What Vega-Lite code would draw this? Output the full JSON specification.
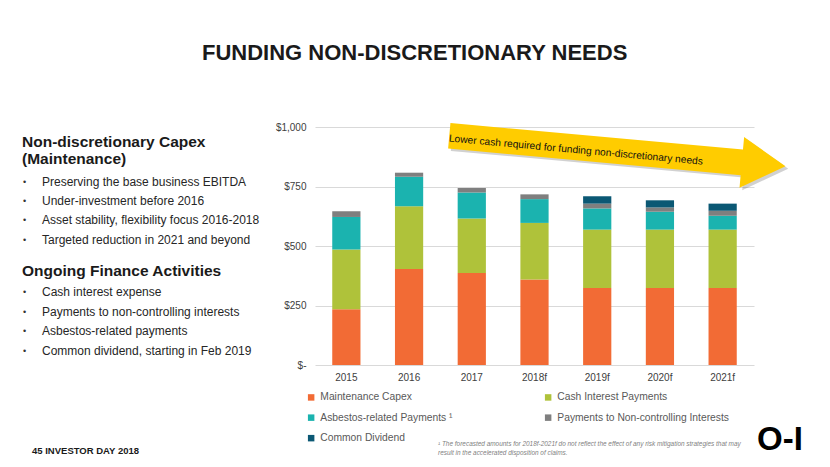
{
  "$schema": "https://vega.github.io/schema/vega-lite/v6.json",
  "background": "white",
  "padding": {"left": 22, "top": 42, "right": 0, "bottom": 0},
  "title": {"text": "FUNDING NON-DISCRETIONARY NEEDS", "fontSize": 22, "fontWeight": "bold", "font": "Liberation Sans", "color": "#1a1a1a", "anchor": "start", "offset": 57, "frame": "group", "dx": 180},
  "config": {"view": {"stroke": null}, "font": "Liberation Sans"},
  "bounds": "flush",
  "spacing": 43,
  "resolve": {"scale": {"color": "independent"}, "legend": {"color": "independent"}},
  "hconcat": [
    {
      "width": 250,
      "height": 238,
      "data": {"values": [
        {"line": 0.77, "kind": "heading", "text": "Non-discretionary Capex"},
        {"line": 1.63, "kind": "heading", "text": "(Maintenance)"},
        {"line": 2.81, "kind": "bullet", "text": "Preserving the base business EBITDA"},
        {"line": 3.78, "kind": "bullet", "text": "Under-investment before 2016"},
        {"line": 4.77, "kind": "bullet", "text": "Asset stability, flexibility focus 2016-2018"},
        {"line": 5.77, "kind": "bullet", "text": "Targeted reduction in 2021 and beyond"},
        {"line": 7.35, "kind": "heading", "text": "Ongoing Finance Activities"},
        {"line": 8.42, "kind": "bullet", "text": "Cash interest expense"},
        {"line": 9.44, "kind": "bullet", "text": "Payments to non-controlling interests"},
        {"line": 10.41, "kind": "bullet", "text": "Asbestos-related payments"},
        {"line": 11.43, "kind": "bullet", "text": "Common dividend, starting in Feb 2019"},
        {"kind": "page", "text": "45 INVESTOR DAY 2018"},
        {"kind": "footnote", "text": "¹ The forecasted amounts for 2018f-2021f do not reflect the effect of any risk mitigation strategies that may\nresult in the accelerated disposition of claims."},
        {"kind": "logo", "text": "O-I"}
      ]},
      "layer": [
        {
          "transform": [{"filter": "datum.kind === 'heading'"}],
          "mark": {"type": "text", "align": "left", "baseline": "middle", "fontSize": 15.5, "fontWeight": "bold", "color": "#1a1a1a"},
          "encoding": {
            "x": {"datum": 0, "type": "quantitative", "scale": {"domain": [0, 250], "nice": false, "zero": false}, "axis": null},
            "y": {"field": "line", "type": "quantitative", "scale": {"domain": [0, 12.15], "reverse": true, "nice": false, "zero": false}, "axis": null},
            "text": {"field": "text"}
          }
        },
        {
          "transform": [{"filter": "datum.kind === 'bullet'"}],
          "mark": {"type": "text", "align": "left", "baseline": "middle", "fontSize": 9, "color": "#333333"},
          "encoding": {
            "x": {"datum": 1, "type": "quantitative", "scale": {"domain": [0, 250], "nice": false, "zero": false}, "axis": null},
            "y": {"field": "line", "type": "quantitative", "scale": {"domain": [0, 12.15], "reverse": true, "nice": false, "zero": false}, "axis": null},
            "text": {"value": "•"}
          }
        },
        {
          "transform": [{"filter": "datum.kind === 'bullet'"}],
          "mark": {"type": "text", "align": "left", "baseline": "middle", "fontSize": 12, "color": "#262626"},
          "encoding": {
            "x": {"datum": 20, "type": "quantitative", "scale": {"domain": [0, 250], "nice": false, "zero": false}, "axis": null},
            "y": {"field": "line", "type": "quantitative", "scale": {"domain": [0, 12.15], "reverse": true, "nice": false, "zero": false}, "axis": null},
            "text": {"field": "text"},
            "fontStyle": {"condition": {"test": "datum.line > 11", "value": "italic"}, "value": "normal"}
          }
        },
        {
          "transform": [{"filter": "datum.kind === 'page'"}],
          "mark": {"type": "text", "align": "left", "baseline": "middle", "fontSize": 9.5, "fontWeight": "bold", "color": "#1a1a1a"},
          "encoding": {
            "x": {"datum": 10, "type": "quantitative", "scale": {"domain": [0, 250], "nice": false, "zero": false}, "axis": null},
            "y": {"datum": 16.55, "type": "quantitative", "scale": {"domain": [0, 12.15], "reverse": true, "nice": false, "zero": false}, "axis": null},
            "text": {"field": "text"}
          }
        },
        {
          "transform": [{"filter": "datum.kind === 'footnote'"}],
          "mark": {"type": "text", "align": "left", "baseline": "top", "fontSize": 6.45, "fontStyle": "italic", "color": "#7F7F7F", "lineBreak": "\n", "lineHeight": 9},
          "encoding": {
            "x": {"datum": 416, "type": "quantitative", "scale": {"domain": [0, 250], "nice": false, "zero": false}, "axis": null},
            "y": {"datum": 16.05, "type": "quantitative", "scale": {"domain": [0, 12.15], "reverse": true, "nice": false, "zero": false}, "axis": null},
            "text": {"field": "text"}
          }
        },
        {
          "transform": [{"filter": "datum.kind === 'logo'"}],
          "mark": {"type": "text", "align": "left", "baseline": "middle", "fontSize": 33, "fontWeight": "bold", "color": "#000000"},
          "encoding": {
            "x": {"datum": 735, "type": "quantitative", "scale": {"domain": [0, 250], "nice": false, "zero": false}, "axis": null},
            "y": {"datum": 15.98, "type": "quantitative", "scale": {"domain": [0, 12.15], "reverse": true, "nice": false, "zero": false}, "axis": null},
            "text": {"field": "text"}
          }
        }
      ]
    },
    {
      "width": 439,
      "height": 238,
      "layer": [
        {
          "data": {"values": [
            {"year": "2015", "category": "Maintenance Capex", "value": 234},
            {"year": "2015", "category": "Cash Interest Payments", "value": 251},
            {"year": "2015", "category": "Asbestos-related Payments", "value": 137},
            {"year": "2015", "category": "Payments to Non-controlling Interests", "value": 24},
            {"year": "2016", "category": "Maintenance Capex", "value": 403},
            {"year": "2016", "category": "Cash Interest Payments", "value": 264},
            {"year": "2016", "category": "Asbestos-related Payments", "value": 124},
            {"year": "2016", "category": "Payments to Non-controlling Interests", "value": 17},
            {"year": "2017", "category": "Maintenance Capex", "value": 387},
            {"year": "2017", "category": "Cash Interest Payments", "value": 229},
            {"year": "2017", "category": "Asbestos-related Payments", "value": 109},
            {"year": "2017", "category": "Payments to Non-controlling Interests", "value": 19},
            {"year": "2018f", "category": "Maintenance Capex", "value": 359},
            {"year": "2018f", "category": "Cash Interest Payments", "value": 238},
            {"year": "2018f", "category": "Asbestos-related Payments", "value": 100},
            {"year": "2018f", "category": "Payments to Non-controlling Interests", "value": 20},
            {"year": "2019f", "category": "Maintenance Capex", "value": 324},
            {"year": "2019f", "category": "Cash Interest Payments", "value": 245},
            {"year": "2019f", "category": "Asbestos-related Payments", "value": 89},
            {"year": "2019f", "category": "Payments to Non-controlling Interests", "value": 20},
            {"year": "2019f", "category": "Common Dividend", "value": 31},
            {"year": "2020f", "category": "Maintenance Capex", "value": 324},
            {"year": "2020f", "category": "Cash Interest Payments", "value": 245},
            {"year": "2020f", "category": "Asbestos-related Payments", "value": 75},
            {"year": "2020f", "category": "Payments to Non-controlling Interests", "value": 18},
            {"year": "2020f", "category": "Common Dividend", "value": 30},
            {"year": "2021f", "category": "Maintenance Capex", "value": 324},
            {"year": "2021f", "category": "Cash Interest Payments", "value": 245},
            {"year": "2021f", "category": "Asbestos-related Payments", "value": 58},
            {"year": "2021f", "category": "Payments to Non-controlling Interests", "value": 21},
            {"year": "2021f", "category": "Common Dividend", "value": 30}
          ]},
          "transform": [
            {"lookup": "category", "from": {"data": {"values": [
              {"category": "Maintenance Capex", "rank": 1},
              {"category": "Cash Interest Payments", "rank": 2},
              {"category": "Asbestos-related Payments", "rank": 3},
              {"category": "Payments to Non-controlling Interests", "rank": 4},
              {"category": "Common Dividend", "rank": 5}
            ]}, "key": "category", "fields": ["rank"]}}
          ],
          "mark": {"type": "bar"},
          "encoding": {
            "x": {"field": "year", "type": "nominal", "sort": null,
              "scale": {"paddingInner": 0.55, "paddingOuter": 0.275},
              "axis": {"title": null, "labelAngle": 0, "ticks": false, "domain": false, "labelFontSize": 10, "labelColor": "#404040", "labelPadding": 7}},
            "y": {"field": "value", "type": "quantitative", "stack": "zero",
              "scale": {"domain": [0, 1000], "nice": false},
              "axis": {"title": null, "values": [0, 250, 500, 750, 1000], "labelExpr": "datum.value === 0 ? '$-' : '$' + format(datum.value, ',')", "ticks": false, "domain": false, "gridColor": "#D9D9D9", "labelFontSize": 10, "labelColor": "#404040", "labelPadding": 9}},
            "order": {"field": "rank", "type": "quantitative", "sort": "ascending"},
            "color": {"field": "category", "type": "nominal",
              "sort": ["Maintenance Capex", "Cash Interest Payments", "Asbestos-related Payments", "Payments to Non-controlling Interests", "Common Dividend"],
              "scale": {"domain": ["Maintenance Capex", "Cash Interest Payments", "Asbestos-related Payments", "Payments to Non-controlling Interests", "Common Dividend"], "range": ["#F26B35", "#AFC23A", "#1BB3AF", "#7F7F7F", "#0B5874"]},
              "legend": {"orient": "none", "legendX": -9, "legendY": 265, "direction": "horizontal", "title": null, "columns": 2, "symbolType": "square", "symbolSize": 42, "symbolStrokeWidth": 0, "labelFontSize": 10.3, "labelColor": "#595959", "rowPadding": 9.5, "columnPadding": 90, "labelLimit": 300, "labelOffset": 4,
                "labelExpr": "datum.label === 'Asbestos-related Payments' ? datum.label + ' ¹' : datum.label"}}
          }
        },
        {
          "data": {"values": [{"note": "Lower cash required for funding non-discretionary needs"}]},
          "layer": [
            {
              "mark": {"type": "point", "shape": "M-1,-0.076 L0.74,-0.076 L0.74,-0.151 L1,0 L0.74,0.151 L0.74,0.076 L-1,0.076 Z", "size": 114000, "angle": 5.2, "filled": true, "color": "#000000", "opacity": 0.18, "strokeWidth": 0},
              "encoding": {
                "x": {"datum": "2019f", "type": "nominal"},
                "xOffset": {"value": 37},
                "y": {"datum": 889, "type": "quantitative"}
              }
            },
            {
              "mark": {"type": "point", "shape": "M-1,-0.076 L0.74,-0.076 L0.74,-0.151 L1,0 L0.74,0.151 L0.74,0.076 L-1,0.076 Z", "size": 114000, "angle": 5.2, "filled": true, "color": "#FFCC00", "opacity": 1, "strokeWidth": 0},
              "encoding": {
                "x": {"datum": "2019f", "type": "nominal"},
                "xOffset": {"value": 34.3},
                "y": {"datum": 899, "type": "quantitative"}
              }
            },
            {
              "mark": {"type": "text", "angle": 5.2, "font": "Liberation Sans", "fontSize": 10.2, "color": "#111111", "align": "center", "baseline": "middle"},
              "encoding": {
                "x": {"datum": "2018f", "type": "nominal"},
                "xOffset": {"value": 55.5},
                "y": {"datum": 903, "type": "quantitative"},
                "text": {"field": "note"}
              }
            }
          ]
        }
      ]
    }
  ]
}
